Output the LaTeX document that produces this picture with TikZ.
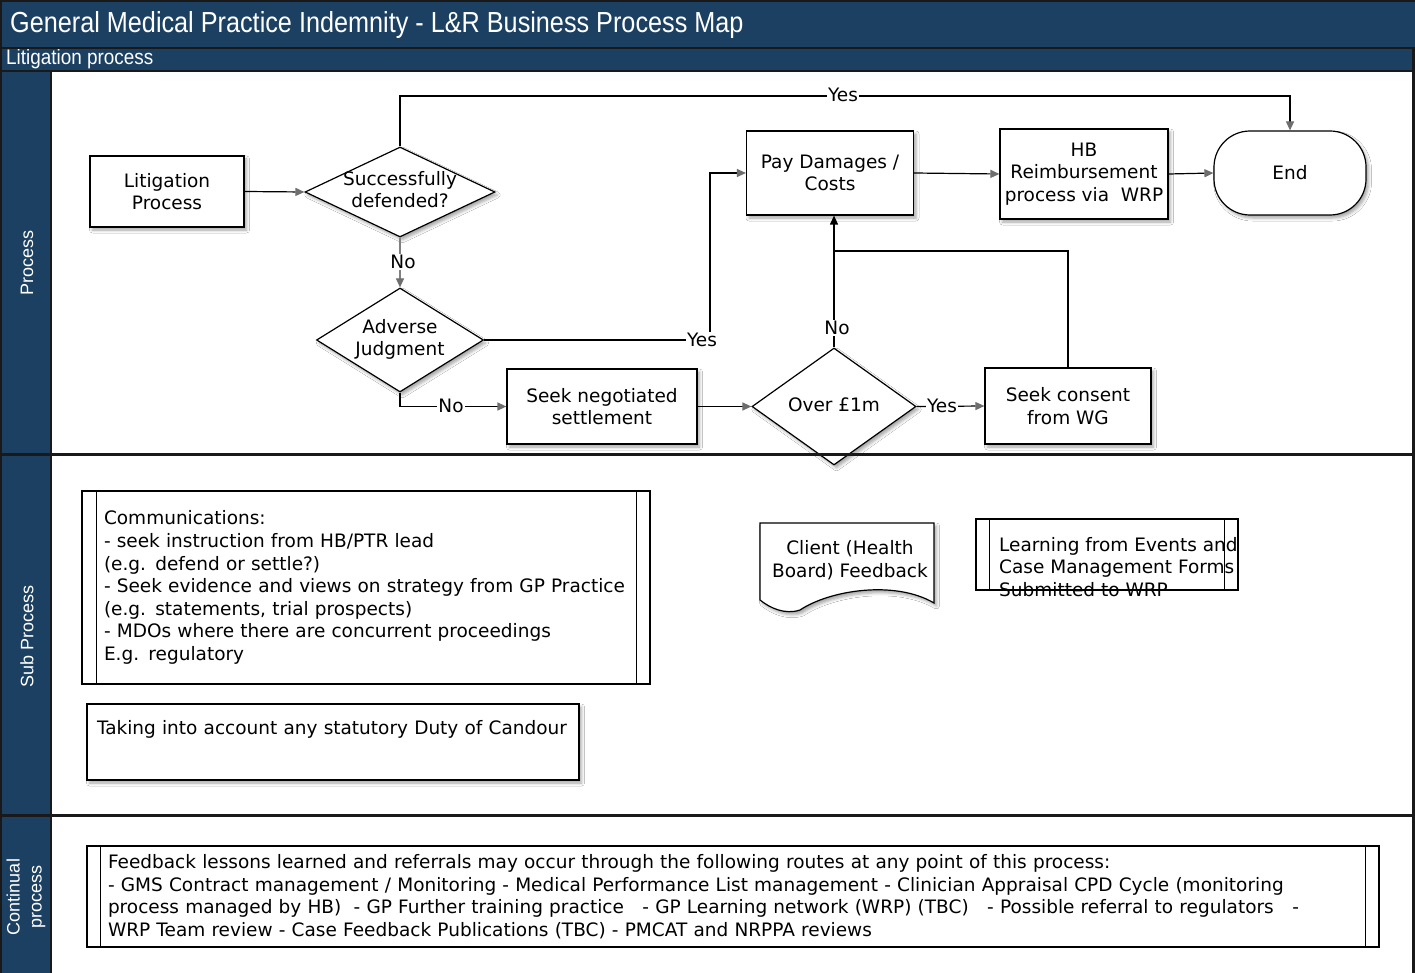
\documentclass[tikz,border=0pt]{standalone}
\usepackage{fontspec}
\setmainfont{DejaVu Sans}
\newfontfamily\headfont[FakeStretch=0.87]{Liberation Sans}
\newfontfamily\subheadfont[FakeStretch=0.9]{Liberation Sans}
\newfontfamily\lanefont{Liberation Sans}
\usetikzlibrary{shapes.geometric,shadows.blur,calc,arrows.meta}
\definecolor{lanebg}{HTML}{1B4062}
\definecolor{tipgray}{HTML}{6E6E6E}
\newcommand{\dtext}[1]{\makebox[0pt]{\begin{tabular}{@{}c@{}}#1\end{tabular}}}
\begin{document}
\begin{tikzpicture}[x=1pt,y=-1pt,
  every node/.style={font=\fontsize{18.5}{22.6}\selectfont},
  shad/.style={blur shadow={shadow xshift=2.5pt, shadow yshift=-3pt, shadow blur radius=3pt, shadow opacity=35}},
  pbox/.style={draw, line width=1.2pt, fill=white, align=center, inner sep=0pt, shad},
  dec/.style={diamond, draw, line width=1.2pt, fill=white, inner sep=0pt, shad},
  plain/.style={draw, line width=1.2pt, fill=white, inner sep=0pt},
  conn/.style={line width=1.2pt, black},
  arr/.style={conn, -{Triangle[length=9pt,width=8pt,color=tipgray]}},
  lbl/.style={fill=white, inner sep=1pt},
  lanetext/.style={text=white, rotate=90, align=center, font=\lanefont\fontsize{18}{21}\selectfont},
  sep/.style={line width=2.2pt, black!90}
]
\useasboundingbox (0,0) rectangle (1415,973);

% header bars and lane column
\fill[lanebg] (0,0) rectangle (1415,71);
\fill[lanebg] (0,71) rectangle (51,973);
\fill[white] (51,72) rectangle (1413,973);
\node[anchor=west, text=white, inner sep=0, font=\headfont\fontsize{29}{32}\selectfont] (title) at (10,25) {General Medical Practice Indemnity - L\&R Business Process Map};
\node[anchor=west, text=white, inner sep=0, font=\subheadfont\fontsize{21}{24}\selectfont] (subtitle) at (6,59.5) {Litigation process};

% lane titles
\node[lanetext] (laneA) at (27,263) {Process};
\node[lanetext] (laneB) at (27,636) {Sub Process};
\node[lanetext, font=\lanefont\fontsize{18}{22}\selectfont] (laneC) at (26,897) {Continual\\process};

% process lane
\node[pbox, minimum width=154, minimum height=71] (lit) at (167,191.5) {Litigation\\Process};
\node[dec, minimum width=190, minimum height=90] (succ) at (400,192) {\dtext{Successfully\\defended?}};
\node[dec, minimum width=167, minimum height=104] (adv) at (400,340) {\dtext{Adverse\\Judgment}};
\node[pbox, minimum width=190, minimum height=75] (neg) at (602,406.5) {Seek negotiated\\settlement};
\node[dec, minimum width=164, minimum height=117] (over) at (834,406.5) {\dtext{Over £1m}};
\node[pbox, minimum width=166, minimum height=76] (wg) at (1068,406) {Seek consent\\from WG};
\node[pbox, minimum width=167, minimum height=84] (pay) at (830,173) {Pay Damages /\\Costs};
\node[pbox, minimum width=168, minimum height=90] (hb) at (1084,174) {HB\\Reimbursement\\process via\ \ WRP};
\node[pbox, minimum width=152, minimum height=84, rounded corners=36pt] (end) at (1290,173) {End};

% connectors
\draw[arr] (lit.east) -- (succ.west);
\draw[arr] (succ.north) -- (400,96) -| (end.north);
\node[lbl] (yes1) at (843,95) {Yes};
\draw[arr, draw=gray] (succ.south) -- (adv.north);
\node[lbl] (no1) at (403,262) {No};
\draw[arr] (adv.east) -- (710,340) |- (pay.west);
\node[lbl] (yes2) at (702,340) {Yes};
\draw[arr] (adv.south) |- (neg.west);
\node[lbl] (no2) at (451,406) {No};
\draw[arr] (neg.east) -- (over.west);
\draw[arr] (over.east) -- (wg.west);
\node[lbl] (yes3) at (942,406) {Yes};
\draw[conn, -{Triangle[length=9pt,width=8pt]}] (over.north) -- (over.north |- pay.south);
\node[lbl] (no3) at (837,328) {No};
\draw[conn] (wg.north) |- (over.north |- 0,251);
\draw[arr] (pay.east) -- (hb.west);
\draw[arr] (hb.east) -- (end.west);

% sub process lane
\node[plain, minimum width=568, minimum height=193, text width=524, inner xsep=22pt, align=left] (comm) at (366,587.5)
  {Communications:\\- seek instruction from HB/PTR lead\\(e.g. defend or settle?)\\- Seek evidence and views on strategy from GP Practice\\(e.g. statements, trial prospects)\\- MDOs where there are concurrent proceedings\\E.g. regulatory};
\draw[conn] ($(comm.north west)+(15,0)$) -- ($(comm.south west)+(15,0)$);
\draw[conn] ($(comm.north east)+(-14,0)$) -- ($(comm.south east)+(-14,0)$);

\node[plain, shad, minimum width=492, minimum height=76, text width=472, inner xsep=10pt, align=left] (candour) at (333,742)
  {Taking into account any statutory Duty of Candour\\\strut};

\node[inner sep=0, minimum width=174, minimum height=74, align=center] (client) at (850,560) {};
\draw[line width=1.2pt, fill=white, shad] (760,523) -- (934,523) -- (934,603)
  .. controls (895,580) and (830,590) .. (800,610)
  .. controls (785,615) and (770,608) .. (760,600) -- cycle;
\node[inner sep=0, align=center] (clienttext) at (client.center) {Client (Health\\Board) Feedback};

\node[draw, line width=1.2pt, inner sep=0, minimum width=262, minimum height=71] (learn) at (1107,554.5) {};
\draw[conn] ($(learn.north west)+(14,0)$) -- ($(learn.south west)+(14,0)$);
\draw[conn] ($(learn.north east)+(-14,0)$) -- ($(learn.south east)+(-14,0)$);
\node[anchor=west, inner sep=0, align=left] (learntext) at (999,567)
  {Learning from Events and\\Case Management Forms\\Submitted to WRP};

% continual lane
\node[plain, minimum width=1292, minimum height=101, text width=1250, inner xsep=21pt, align=left] (cont) at (733,896.5)
  {Feedback lessons learned and referrals may occur through the following routes at any point of this process:\\
   - GMS Contract management / Monitoring - Medical Performance List management - Clinician Appraisal CPD Cycle (monitoring\\
   process managed by HB)\ \ - GP Further training practice\ \ \ - GP Learning network (WRP) (TBC)\ \ \ - Possible referral to regulators\ \ \ -\\
   WRP Team review - Case Feedback Publications (TBC) - PMCAT and NRPPA reviews};
\draw[conn] ($(cont.north west)+(14,0)$) -- ($(cont.south west)+(14,0)$);
\draw[conn] ($(cont.north east)+(-14,0)$) -- ($(cont.south east)+(-14,0)$);

% frame and lane separators
\draw[sep] (0,48) -- (1415,48);
\draw[sep] (0,71) -- (1415,71);
\draw[sep] (51,71) -- (51,973);
\draw[sep] (0,454.5) -- (1415,454.5);
\draw[sep] (0,815.5) -- (1415,815.5);
\draw[sep] (1413.5,48) -- (1413.5,973);
\draw[line width=2pt, black!90] (1,0) -- (1,973);
\draw[line width=2pt, black!90] (0,1) -- (1415,1);
\end{tikzpicture}
\end{document}
